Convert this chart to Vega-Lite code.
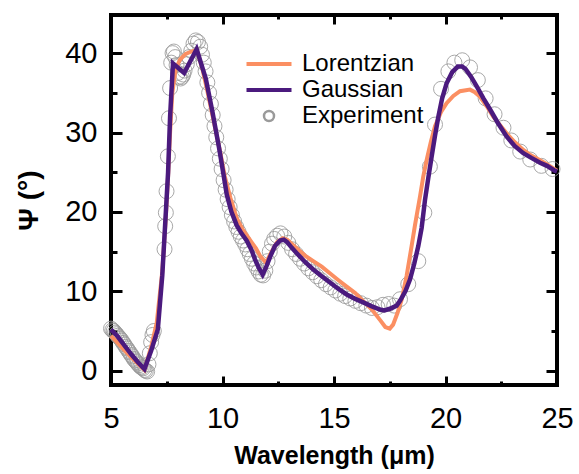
{
  "$schema": "https://vega.github.io/schema/vega-lite/v6.json",
  "width": 446,
  "height": 370,
  "autosize": "none",
  "padding": {"left": 111, "top": 15, "right": 22, "bottom": 89},
  "config": {
    "view": {"stroke": "black", "strokeWidth": 4},
    "axis": {"grid": false, "domain": false, "labelFont": "Liberation Sans", "labelColor": "black", "titleFont": "Liberation Sans", "titleColor": "black", "labelFlush": false, "labelOverlap": false},
    "legend": {"orient": "none", "legendX": 146, "legendY": 37, "title": null, "padding": 0,
      "labelFont": "Liberation Sans", "labelFontSize": 24, "labelColor": "black", "labelOffset": 21,
      "rowPadding": 2, "symbolSize": 100, "symbolStrokeWidth": 4}
  },
  "datasets": {
    "exp": [
      {"x":5.00,"y":5.3},{"x":5.06,"y":5.1},{"x":5.12,"y":5.0},{"x":5.18,"y":4.8},{"x":5.24,"y":4.6},{"x":5.30,"y":4.4},{"x":5.36,"y":4.2},{"x":5.42,"y":4.0},{"x":5.48,"y":3.8},{"x":5.54,"y":3.5},{"x":5.60,"y":3.3},{"x":5.66,"y":3.0},{"x":5.72,"y":2.8},{"x":5.78,"y":2.5},{"x":5.84,"y":2.3},{"x":5.90,"y":2.0},{"x":5.96,"y":1.8},{"x":6.02,"y":1.5},{"x":6.08,"y":1.3},{"x":6.14,"y":1.1},{"x":6.20,"y":0.9},{"x":6.26,"y":0.7},{"x":6.32,"y":0.5},{"x":6.38,"y":0.4},{"x":6.44,"y":0.3},{"x":6.50,"y":0.1},{"x":6.56,"y":0.0},{"x":6.62,"y":-0.1},{"x":6.68,"y":0.8},{"x":6.74,"y":2.2},{"x":6.80,"y":3.6},{"x":6.86,"y":4.5},{"x":6.92,"y":5.0},
      {"x":7.40,"y":15.3},{"x":7.43,"y":18.2},{"x":7.46,"y":19.9},{"x":7.49,"y":22.6},{"x":7.55,"y":27.0},{"x":7.60,"y":31.8},{"x":7.65,"y":35.6},{"x":7.70,"y":38.8},{"x":7.76,"y":40.0},{"x":7.82,"y":40.2},{"x":7.88,"y":39.5},{"x":7.94,"y":38.5},{"x":8.00,"y":37.5},{"x":8.06,"y":37.0},{"x":8.12,"y":36.8},{"x":8.18,"y":37.0},{"x":8.24,"y":37.3},{"x":8.30,"y":37.8},{"x":8.40,"y":38.6},{"x":8.50,"y":39.5},{"x":8.60,"y":40.3},{"x":8.70,"y":41.2},{"x":8.80,"y":41.6},{"x":8.90,"y":41.4},{"x":9.00,"y":40.8},{"x":9.08,"y":39.8},{"x":9.16,"y":38.8},{"x":9.24,"y":37.7},{"x":9.32,"y":36.3},{"x":9.40,"y":35.0},{"x":9.48,"y":33.6},{"x":9.56,"y":32.2},{"x":9.64,"y":30.8},{"x":9.72,"y":29.4},{"x":9.80,"y":28.0},{"x":9.88,"y":26.7},{"x":9.96,"y":25.4},{"x":10.05,"y":24.0},{"x":10.14,"y":22.8},{"x":10.23,"y":21.6},{"x":10.32,"y":20.6},{"x":10.42,"y":19.6},{"x":10.52,"y":18.8},{"x":10.62,"y":18.1},{"x":10.72,"y":17.5},{"x":10.82,"y":16.9},{"x":10.92,"y":16.4},{"x":11.02,"y":15.9},{"x":11.12,"y":15.3},{"x":11.22,"y":14.7},{"x":11.32,"y":14.1},{"x":11.42,"y":13.5},{"x":11.52,"y":13.0},{"x":11.62,"y":12.5},{"x":11.72,"y":12.1},{"x":11.82,"y":12.0},{"x":11.92,"y":12.6},{"x":12.02,"y":13.8},{"x":12.12,"y":15.0},{"x":12.22,"y":16.0},{"x":12.32,"y":16.6},{"x":12.45,"y":17.0},{"x":12.60,"y":17.3},{"x":12.77,"y":16.9},{"x":12.95,"y":16.1},{"x":13.12,"y":15.3},{"x":13.30,"y":14.7},{"x":13.48,"y":14.1},{"x":13.66,"y":13.5},{"x":13.85,"y":12.9},{"x":14.04,"y":12.4},{"x":14.23,"y":11.9},{"x":14.43,"y":11.4},{"x":14.64,"y":10.9},{"x":14.85,"y":10.5},{"x":15.06,"y":10.1},{"x":15.28,"y":9.7},{"x":15.50,"y":9.4},{"x":15.73,"y":9.1},{"x":15.96,"y":8.8},{"x":16.20,"y":8.5},{"x":16.45,"y":8.2},{"x":16.70,"y":7.9},{"x":16.95,"y":8.0},{"x":17.20,"y":8.3},{"x":17.45,"y":8.4},{"x":17.70,"y":8.2},{"x":17.96,"y":9.0},{"x":18.33,"y":10.9},{"x":18.78,"y":13.8},{"x":19.05,"y":19.9},{"x":19.30,"y":25.7},{"x":19.53,"y":31.0},{"x":19.80,"y":35.5},{"x":20.13,"y":37.7},{"x":20.40,"y":38.8},{"x":20.75,"y":39.1},{"x":21.10,"y":38.2},{"x":21.45,"y":36.6},{"x":21.80,"y":34.3},{"x":22.20,"y":32.3},{"x":22.60,"y":30.6},{"x":22.95,"y":29.0},{"x":23.35,"y":27.6},{"x":23.80,"y":26.6},{"x":24.30,"y":25.8},{"x":24.80,"y":25.4}
    ],
    "lor": [
      {"x":5.0,"y":4.4},{"x":5.3,"y":3.5},{"x":5.6,"y":2.6},{"x":5.9,"y":1.7},{"x":6.2,"y":0.9},{"x":6.5,"y":0.1},{"x":6.8,"y":3.0},{"x":7.05,"y":6.0},{"x":7.3,"y":12.5},{"x":7.45,"y":19.0},{"x":7.56,"y":24.5},{"x":7.65,"y":30.0},{"x":7.75,"y":35.0},{"x":7.9,"y":38.0},{"x":8.1,"y":39.2},{"x":8.35,"y":39.9},{"x":8.6,"y":40.2},{"x":8.85,"y":40.4},{"x":9.1,"y":38.0},{"x":9.3,"y":35.5},{"x":9.6,"y":31.5},{"x":9.9,"y":27.5},{"x":10.1,"y":24.5},{"x":10.35,"y":21.8},{"x":10.64,"y":19.2},{"x":10.9,"y":17.8},{"x":11.1,"y":17.0},{"x":11.3,"y":16.2},{"x":11.5,"y":15.4},{"x":11.7,"y":14.4},{"x":11.95,"y":13.6},{"x":12.2,"y":15.0},{"x":12.45,"y":16.2},{"x":12.7,"y":16.7},{"x":12.9,"y":16.5},{"x":13.1,"y":16.0},{"x":13.3,"y":15.5},{"x":13.7,"y":14.5},{"x":14.07,"y":13.8},{"x":14.45,"y":13.1},{"x":14.8,"y":12.3},{"x":15.2,"y":11.4},{"x":15.57,"y":10.6},{"x":15.95,"y":9.8},{"x":16.3,"y":8.8},{"x":16.7,"y":7.7},{"x":17.06,"y":6.4},{"x":17.3,"y":5.5},{"x":17.5,"y":5.3},{"x":17.65,"y":5.8},{"x":17.85,"y":7.3},{"x":18.04,"y":9.0},{"x":18.26,"y":12.0},{"x":18.48,"y":15.7},{"x":18.63,"y":18.3},{"x":18.86,"y":22.0},{"x":19.0,"y":24.4},{"x":19.16,"y":26.6},{"x":19.35,"y":28.9},{"x":19.53,"y":30.8},{"x":19.8,"y":32.6},{"x":20.05,"y":33.7},{"x":20.35,"y":34.6},{"x":20.65,"y":35.2},{"x":21.1,"y":35.4},{"x":21.3,"y":35.1},{"x":21.55,"y":34.5},{"x":21.85,"y":33.3},{"x":22.14,"y":32.0},{"x":22.45,"y":30.9},{"x":22.74,"y":29.9},{"x":23.1,"y":28.8},{"x":23.49,"y":27.8},{"x":23.85,"y":27.1},{"x":24.24,"y":26.5},{"x":24.6,"y":25.9},{"x":25.0,"y":25.2}
    ],
    "gau": [
      {"x":5.0,"y":5.2},{"x":5.3,"y":4.3},{"x":5.6,"y":3.2},{"x":5.9,"y":2.1},{"x":6.2,"y":1.1},{"x":6.5,"y":0.2},{"x":6.8,"y":2.5},{"x":7.1,"y":5.2},{"x":7.3,"y":12.0},{"x":7.45,"y":19.5},{"x":7.56,"y":25.0},{"x":7.65,"y":32.0},{"x":7.78,"y":38.7},{"x":8.28,"y":37.5},{"x":8.84,"y":40.5},{"x":9.25,"y":36.8},{"x":9.55,"y":32.6},{"x":9.85,"y":28.0},{"x":10.04,"y":24.8},{"x":10.19,"y":22.2},{"x":10.4,"y":20.0},{"x":10.64,"y":18.3},{"x":10.85,"y":17.3},{"x":11.08,"y":16.4},{"x":11.3,"y":15.2},{"x":11.46,"y":14.0},{"x":11.62,"y":13.0},{"x":11.8,"y":12.1},{"x":11.95,"y":13.0},{"x":12.13,"y":14.3},{"x":12.35,"y":15.7},{"x":12.58,"y":16.4},{"x":12.75,"y":16.5},{"x":12.9,"y":16.2},{"x":13.1,"y":15.5},{"x":13.33,"y":14.8},{"x":13.7,"y":13.7},{"x":14.07,"y":12.75},{"x":14.45,"y":11.9},{"x":14.82,"y":11.1},{"x":15.2,"y":10.3},{"x":15.57,"y":9.6},{"x":15.95,"y":9.05},{"x":16.31,"y":8.6},{"x":16.7,"y":8.1},{"x":17.06,"y":7.7},{"x":17.25,"y":7.6},{"x":17.51,"y":7.8},{"x":17.81,"y":8.2},{"x":17.96,"y":8.8},{"x":18.2,"y":10.0},{"x":18.41,"y":11.5},{"x":18.6,"y":13.5},{"x":18.78,"y":15.7},{"x":18.93,"y":18.0},{"x":19.08,"y":21.5},{"x":19.23,"y":24.3},{"x":19.38,"y":27.0},{"x":19.53,"y":29.6},{"x":19.68,"y":32.0},{"x":19.85,"y":34.3},{"x":20.05,"y":36.2},{"x":20.3,"y":37.6},{"x":20.55,"y":38.3},{"x":20.75,"y":38.3},{"x":20.9,"y":38.0},{"x":21.15,"y":37.0},{"x":21.4,"y":35.8},{"x":21.7,"y":34.3},{"x":22.0,"y":32.9},{"x":22.35,"y":31.2},{"x":22.74,"y":29.5},{"x":23.1,"y":28.3},{"x":23.49,"y":27.4},{"x":23.85,"y":26.8},{"x":24.24,"y":26.2},{"x":24.55,"y":25.8},{"x":24.9,"y":25.2},{"x":25.0,"y":25.1}
    ]
  },
  "layer": [
    {
      "data": {"name": "exp"},
      "mark": {"type": "point", "opacity": 0},
      "encoding": {
        "x": {"field": "x", "type": "quantitative",
          "axis": {"orient": "top", "values": [7.5, 12.5, 17.5, 22.5], "labels": false, "title": null, "tickSize": -4, "tickColor": "black", "tickWidth": 3}},
        "y": {"field": "y", "type": "quantitative",
          "axis": {"orient": "right", "values": [5, 15, 25, 35], "labels": false, "title": null, "tickSize": -6, "tickColor": "black", "tickWidth": 3}}
      }
    },
    {
      "data": {"name": "exp"},
      "mark": {"type": "point", "shape": "circle", "size": 225, "strokeWidth": 1, "filled": false, "opacity": 0.85},
      "encoding": {
        "x": {"field": "x", "type": "quantitative", "scale": {"domain": [5, 25], "nice": false, "zero": false},
          "axis": {"orient": "bottom", "values": [5, 10, 15, 20, 25], "offset": -9, "tickSize": 9, "tickColor": "black", "tickWidth": 3,
            "labelFontSize": 29, "labelPadding": 19,
            "title": "Wavelength (μm)", "titleFontSize": 25, "titleFontWeight": "bold", "titlePadding": 10}},
        "y": {"field": "y", "type": "quantitative", "scale": {"domain": [-1.8, 44.8], "nice": false, "zero": false},
          "axis": {"orient": "left", "values": [0, 10, 20, 30, 40], "offset": -11, "tickSize": 11, "tickColor": "black", "tickWidth": 3,
            "labelFontSize": 29, "labelPadding": 14,
            "title": "Ψ (°)", "titleFontSize": 28, "titleFontWeight": "bold", "titlePadding": 21}},
        "color": {"datum": "Experiment", "type": "nominal",
          "scale": {"domain": ["Lorentzian", "Gaussian", "Experiment"], "range": ["#FB8F62", "#4B1A7E", "#9A9A9A"]},
          "legend": {"symbolType": "M-4.5,0H4.5",
            "encode": {"symbols": {"enter": {
              "shape": {"signal": "datum.value === 'Experiment' ? 'circle' : 'M-4.5,0H4.5'"}},
              "update": {
              "shape": {"signal": "datum.value === 'Experiment' ? 'circle' : 'M-4.5,0H4.5'"},
              "strokeWidth": {"signal": "datum.value === 'Experiment' ? 2.5 : 4"},
              "fill": {"value": "transparent"},
              "stroke": {"signal": "datum.value === 'Experiment' ? '#999999' : (datum.value === 'Lorentzian' ? '#FB8F62' : '#4B1A7E')"},
              "opacity": {"value": 1}
            }}}}}
      }
    },
    {
      "data": {"name": "lor"},
      "mark": {"type": "line", "strokeWidth": 4},
      "encoding": {
        "x": {"field": "x", "type": "quantitative",
          "axis": {"orient": "top", "values": [5, 10, 15, 20, 25], "labels": false, "title": null, "tickSize": -9, "tickColor": "black", "tickWidth": 3}},
        "y": {"field": "y", "type": "quantitative",
          "axis": {"orient": "right", "values": [0, 10, 20, 30, 40], "labels": false, "title": null, "tickSize": -11, "tickColor": "black", "tickWidth": 3}},
        "color": {"datum": "Lorentzian", "type": "nominal",
          "legend": {"symbolType": "M-4.5,0H4.5",
            "encode": {"symbols": {"enter": {
              "shape": {"signal": "datum.value === 'Experiment' ? 'circle' : 'M-4.5,0H4.5'"}},
              "update": {
              "shape": {"signal": "datum.value === 'Experiment' ? 'circle' : 'M-4.5,0H4.5'"},
              "strokeWidth": {"signal": "datum.value === 'Experiment' ? 2.5 : 4"},
              "fill": {"value": "transparent"},
              "stroke": {"signal": "datum.value === 'Experiment' ? '#999999' : (datum.value === 'Lorentzian' ? '#FB8F62' : '#4B1A7E')"},
              "opacity": {"value": 1}
            }}}}}
      }
    },
    {
      "data": {"name": "gau"},
      "mark": {"type": "line", "strokeWidth": 4.5},
      "encoding": {
        "x": {"field": "x", "type": "quantitative",
          "axis": {"orient": "bottom", "values": [7.5, 12.5, 17.5, 22.5], "labels": false, "title": null, "tickSize": -4, "tickColor": "black", "tickWidth": 3}},
        "y": {"field": "y", "type": "quantitative",
          "axis": {"orient": "left", "values": [5, 15, 25, 35], "labels": false, "title": null, "tickSize": -6, "tickColor": "black", "tickWidth": 3}},
        "color": {"datum": "Gaussian", "type": "nominal",
          "legend": {"symbolType": "M-4.5,0H4.5",
            "encode": {"symbols": {"enter": {
              "shape": {"signal": "datum.value === 'Experiment' ? 'circle' : 'M-4.5,0H4.5'"}},
              "update": {
              "shape": {"signal": "datum.value === 'Experiment' ? 'circle' : 'M-4.5,0H4.5'"},
              "strokeWidth": {"signal": "datum.value === 'Experiment' ? 2.5 : 4"},
              "fill": {"value": "transparent"},
              "stroke": {"signal": "datum.value === 'Experiment' ? '#999999' : (datum.value === 'Lorentzian' ? '#FB8F62' : '#4B1A7E')"},
              "opacity": {"value": 1}
            }}}}}
      }
    }
  ],
  "resolve": {"axis": {"x": "independent", "y": "independent"}}
}
